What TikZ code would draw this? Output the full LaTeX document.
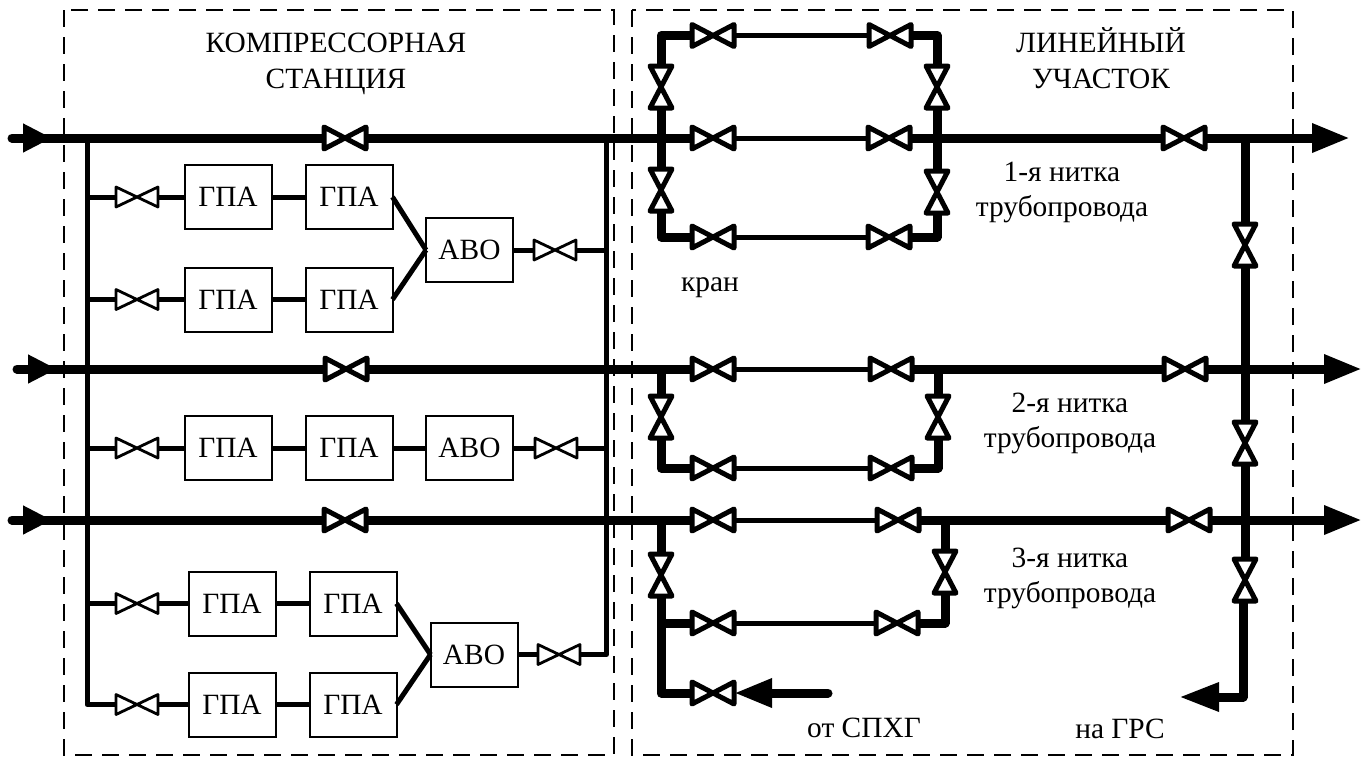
\documentclass[tikz,border=0pt]{standalone}
\usepackage{fontspec}
\setmainfont{Liberation Serif}
\usetikzlibrary{arrows.meta}
\tikzset{
  x=1pt,y=-1pt,
  every node/.style={font=\fontsize{29.4}{35.5}\selectfont},
  label text/.style={align=center,inner sep=0pt},
  zone/.style={draw,line width=2pt,dash pattern=on 17pt off 10pt},
  unitbox/.style={draw,line width=2pt,fill=white,minimum width=87pt,minimum height=64pt,inner sep=0pt,outer sep=0pt},
  heavy/.style={line width=9pt,line cap=butt,line join=round},
  light/.style={line width=5pt,line cap=butt,line join=round},
  inarrow/.style={line cap=round,line width=9pt,-{Triangle[length=29pt,width=27pt,sep=0pt]}},
  outarrow/.style={line width=9pt,-{Triangle[length=38pt,width=27pt,sep=0pt]}},
  bigvalveH/.style={minimum width=42pt,minimum height=22pt,inner sep=0pt,outer sep=0pt},
  bigvalveV/.style={minimum width=22pt,minimum height=42pt,inner sep=0pt,outer sep=0pt},
  smallvalveH/.style={minimum width=42pt,minimum height=20pt,inner sep=0pt,outer sep=0pt},
  valveline/.style={draw,fill=white,line join=round},
}
\newcommand{\VH}[3]{\node[bigvalveH] (#1) at (#2,#3) {};
  \path[valveline,line width=5pt] (#1.north west) -- (#1.south east) -- (#1.north east) -- (#1.south west) -- cycle;}
\newcommand{\VV}[3]{\node[bigvalveV] (#1) at (#2,#3) {};
  \path[valveline,line width=5pt] (#1.north west) -- (#1.south east) -- (#1.south west) -- (#1.north east) -- cycle;}
\newcommand{\VS}[3]{\node[smallvalveH] (#1) at (#2,#3) {};
  \path[valveline,line width=2.8pt] (#1.north west) -- (#1.south east) -- (#1.north east) -- (#1.south west) -- cycle;}
\begin{document}
\begin{tikzpicture}
\useasboundingbox (0,0) rectangle (1362,756);
% zones
\draw[zone] (64,10) rectangle (613.5,755);
\draw[zone] (632,10) rectangle (1293,755);
% coordinates of free ends and junctions
\coordinate (s1) at (12,138); \coordinate (a1) at (52,138); \coordinate (c1s) at (38,138); \coordinate (e1) at (1350,138);
\coordinate (s2) at (17,369); \coordinate (a2) at (57,369); \coordinate (c2s) at (43,369); \coordinate (e2) at (1362,369);
\coordinate (s3) at (12,520); \coordinate (a3) at (52,520); \coordinate (c3s) at (38,520); \coordinate (e3) at (1362,520);
\coordinate (mL) at (87,135); \coordinate (mLb) at (87,704.5);
\coordinate (mR) at (606.5,135); \coordinate (mRb) at (606.5,654.5);
% compressor: valves
\VH{v1a}{345}{138} \VH{v2a}{346}{369} \VH{v3a}{345}{520}
\VS{b1}{137}{197} \VS{b2}{137}{299.5} \VS{b3}{137}{448} \VS{b4}{137}{603.5} \VS{b5}{137}{704.5}
\VS{o1}{555}{250} \VS{o2}{556}{448} \VS{o3}{559}{654.5}
% units
\node[unitbox] (g11) at (228,197) {ГПА};
\node[unitbox] (g12) at (349,197) {ГПА};
\node[unitbox] (g21) at (228,299.5) {ГПА};
\node[unitbox] (g22) at (349,299.5) {ГПА};
\node[unitbox] (a12) at (469.5,250) {АВО};
\node[unitbox] (g31) at (228,448) {ГПА};
\node[unitbox] (g32) at (349,448) {ГПА};
\node[unitbox] (a3u) at (469.5,448) {АВО};
\node[unitbox] (g41) at (232,603.5) {ГПА};
\node[unitbox] (g42) at (353,603.5) {ГПА};
\node[unitbox] (g51) at (232,704.5) {ГПА};
\node[unitbox] (g52) at (353,704.5) {ГПА};
\node[unitbox] (a45) at (474,654.5) {АВО};
% manifolds
\draw[light] (mL) -- (mLb) -- (b5.west);
\draw[light] (mR) -- (mRb) -- (o3.east);
\draw[light] (b1.west) -- (87,197);
\draw[light] (b2.west) -- (87,299.5);
\draw[light] (b3.west) -- (87,448);
\draw[light] (b4.west) -- (87,603.5);
\draw[light] (b1.east) -- (g11.west);
\draw[light] (b2.east) -- (g21.west);
\draw[light] (b3.east) -- (g31.west);
\draw[light] (b4.east) -- (g41.west);
\draw[light] (b5.east) -- (g51.west);
\draw[light] (g11) -- (g12);
\draw[light] (g21) -- (g22);
\draw[light] (g31) -- (g32);
\draw[light] (g41) -- (g42);
\draw[light] (g51) -- (g52);
\draw[light] (g32) -- (a3u);
\draw[light] (g12.east) -- (a12.west);
\draw[light] (g22.east) -- (a12.west);
\draw[light] (g42.east) -- (a45.west);
\draw[light] (g52.east) -- (a45.west);
\draw[light] (a12) -- (o1);
\draw[light] (a3u) -- (o2);
\draw[light] (a45) -- (o3);
\draw[light] (o1.east) -- (606.5,250);
\draw[light] (o2.east) -- (606.5,448);
% line section valves: thread 1
\VH{t1a}{713}{35.5} \VH{t1b}{890}{35.5}
\VH{m1a}{713}{138} \VH{m1b}{889}{138} \VH{m1c}{1184}{138}
\VH{u1a}{713}{237} \VH{u1b}{889}{237}
\VV{l1a}{661}{87} \VV{l1b}{661}{190}
\VV{r1a}{937}{87} \VV{r1b}{937}{192}
% thread 2
\VH{m2a}{713}{369} \VH{m2b}{891}{369} \VH{m2c}{1185}{369}
\VH{u2a}{713}{468} \VH{u2b}{891}{468}
\VV{l2}{661}{417} \VV{r2}{938}{417}
% thread 3
\VH{m3a}{713}{520} \VH{m3b}{898}{520} \VH{m3c}{1189}{520}
\VH{u3a}{713}{623} \VH{u3b}{897}{623} \VH{u3c}{713}{693}
\VV{l3}{661}{575} \VV{r3}{945}{572}
% collector valves
\VV{c1}{1245}{245} \VV{c2}{1245}{443} \VV{c3}{1245}{580}
% main lines
\draw[heavy] (c1s) -- (v1a.west); \draw[heavy] (v1a.east) -- (m1a.west);
\draw[inarrow] (s1) -- (a1);
\draw[light] (m1a.east) -- (m1b.west);
\draw[heavy] (m1b.east) -- (m1c.west);
\draw[outarrow] (m1c.east) -- (e1);
\draw[heavy] (c2s) -- (v2a.west); \draw[heavy] (v2a.east) -- (m2a.west);
\draw[inarrow] (s2) -- (a2);
\draw[light] (m2a.east) -- (m2b.west);
\draw[heavy] (m2b.east) -- (m2c.west);
\draw[outarrow] (m2c.east) -- (e2);
\draw[heavy] (c3s) -- (v3a.west); \draw[heavy] (v3a.east) -- (m3a.west);
\draw[inarrow] (s3) -- (a3);
\draw[light] (m3a.east) -- (m3b.west);
\draw[heavy] (m3b.east) -- (m3c.west);
\draw[outarrow] (m3c.east) -- (e3);
% bypass 1
\draw[heavy] (t1a.west) -| (l1a.north);
\draw[heavy] (l1a.south) -- (l1b.north);
\draw[heavy] (l1b.south) |- (u1a.west);
\draw[light] (t1a.east) -- (t1b.west);
\draw[light] (u1a.east) -- (u1b.west);
\draw[heavy] (t1b.east) -| (r1a.north);
\draw[heavy] (r1a.south) -- (r1b.north);
\draw[heavy] (r1b.south) |- (u1b.east);
% bypass 2
\draw[heavy] (661,369) -- (l2.north);
\draw[heavy] (l2.south) |- (u2a.west);
\draw[light] (u2a.east) -- (u2b.west);
\draw[heavy] (938,369) -- (r2.north);
\draw[heavy] (r2.south) |- (u2b.east);
% bypass 3
\draw[heavy] (661,520) -- (l3.north);
\draw[heavy] (l3.south) |- (u3c.west);
\draw[heavy] (661,623) -- (u3a.west);
\draw[light] (u3a.east) -- (u3b.west);
\draw[heavy] (945,520) -- (r3.north);
\draw[heavy] (r3.south) |- (u3b.east);
\coordinate (spxg) at (828,693);
\draw[outarrow,line cap=round] (spxg) -- (u3c.east);
% collector
\coordinate (grs) at (1179,697);
\coordinate (cb) at (1243,601);
\draw[heavy] (1245,138) -- (c1.north);
\draw[heavy] (c1.south) -- (c2.north);
\draw[heavy] (c2.south) -- (c3.north);
\draw[line width=9pt,line join=round,-{Triangle[length=40pt,width=27pt,sep=0pt]}] (cb) |- (grs);
% labels
\node[label text] (tks) at (336,63.5) {\strut КОМПРЕССОРНАЯ\\СТАНЦИЯ\strut};
\node[label text] (tlu) at (1101,63.5) {\strut ЛИНЕЙНЫЙ\\УЧАСТОК\strut};
\node[label text,anchor=base] (tkr) at (710,291) {кран};
\node[label text] (tt1) at (1062,192) {\strut 1-я нитка\\трубопровода\strut};
\node[label text] (tt2) at (1070,423) {\strut 2-я нитка\\трубопровода\strut};
\node[label text] (tt3) at (1070,578) {\strut 3-я нитка\\трубопровода\strut};
\node[label text,anchor=base] (tsp) at (864,737) {от СПХГ};
\node[label text,anchor=base] (tgr) at (1120,738) {на ГРС};
\end{tikzpicture}
\end{document}
